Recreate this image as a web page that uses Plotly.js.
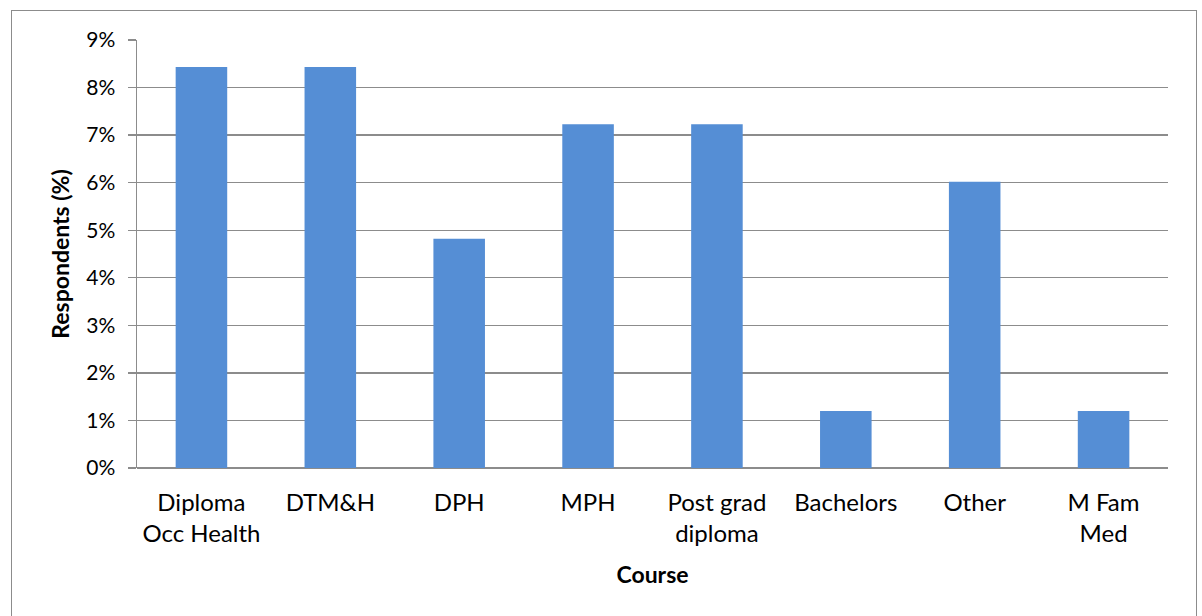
<!DOCTYPE html>
<html><head><meta charset="utf-8">
<script src="https://cdn.plot.ly/plotly-3.0.1.min.js"></script>
<style>
html,body{margin:0;padding:0;background:#fff;}
#frame{position:absolute;left:11px;top:10px;width:1184px;height:640px;border:1.5px solid #8c8c8c;}
#chart{position:absolute;left:0;top:0;width:1202px;height:616px;}
</style></head>
<body>
<div id="frame"></div>
<div id="chart"></div>
<script>
var categories = ["Diploma<br>Occ Health","DTM&H","DPH","MPH","Post grad<br>diploma","Bachelors","Other","M Fam<br>Med"];
var values = [8.43, 8.43, 4.82, 7.23, 7.23, 1.20, 6.02, 1.20];
var yTickVals = [0,1,2,3,4,5,6,7,8,9];
var yTickText = ["0%","1%","2%","3%","4%","5%","6%","7%","8%","9%"];

var font = "Lato, 'Open Sans', sans-serif";
Plotly.newPlot("chart", [{
  type: "bar",
  x: categories,
  y: values,
  marker: {color: "#558ED5"},
  hoverinfo: "x+y"
}], {
  width: 1202, height: 616,
  margin: {l: 137, r: 34, t: 40, b: 148},
  paper_bgcolor: "rgba(0,0,0,0)",
  plot_bgcolor: "#fff",
  bargap: 0.6,
  showlegend: false,
  xaxis: {
    showgrid: false, showline: false, zeroline: false,
    ticks: "", tickfont: {family: font, size: 24, color: "#000"},
    ticklabelstandoff: 18,
    title: {text: "<b>Course</b>", font: {family: font, size: 23, color: "#000"}, standoff: 20}
  },
  yaxis: {
    range: [0, 9], tickvals: yTickVals, ticktext: yTickText,
    showgrid: true, gridcolor: "#8c8c8c", gridwidth: 1.3,
    showline: true, linecolor: "#8c8c8c", linewidth: 1.5,
    zeroline: true, zerolinecolor: "#8c8c8c", zerolinewidth: 1.5,
    ticks: "outside", ticklen: 8, tickcolor: "#8c8c8c", tickwidth: 1.3,
    ticklabelstandoff: 8,
    tickfont: {family: font, size: 21, color: "#000"},
    title: {text: "<b>Respondents (%)</b>", font: {family: font, size: 23, color: "#000"}, standoff: 10}
  }
}, {displayModeBar: false, staticPlot: true});
</script>
</body></html>
